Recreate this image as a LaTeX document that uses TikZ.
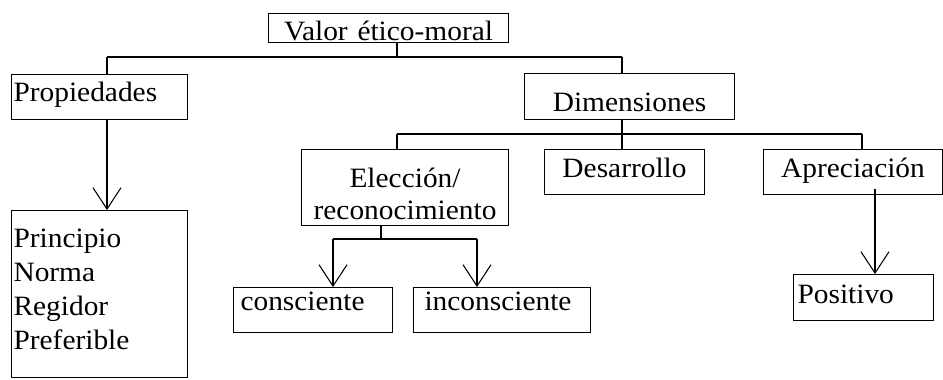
\documentclass[tikz,border=0pt]{standalone}
\usepackage{fontspec}
\usepackage{graphicx}
\setmainfont{Liberation Serif}
\usetikzlibrary{arrows.meta}
\newcommand{\sx}[1]{\scalebox{1.05}[1]{#1}}
\tikzset{
  box/.style={draw, line width=0.8pt, inner ysep=0pt, anchor=north west,
    font=\fontsize{21}{24}\selectfont},
  link/.style={line width=0.8pt},
  arr/.style={line width=0.8pt, -{Straight Barb[length=16pt,width=21pt,line width=0.8pt]}}
}
\begin{document}
\begin{tikzpicture}[x=0.75pt,y=-0.75pt]
\useasboundingbox (0,0) rectangle (943,379);
% boxes
\node[box, inner xsep=0pt, text width=180pt, align=center, text height=20.25pt, text depth=1.5pt] (val) at (268,13) {\sx{Valor ético-moral}};
\node[box, inner xsep=1.5pt, text width=129pt, align=left, text height=20.25pt, text depth=13.5pt] (prop) at (11,74) {\sx{Propiedades}};
\node[box, inner xsep=0pt, text width=157.5pt, align=center, text height=28.5pt, text depth=6pt] (dim) at (524,73) {\sx{Dimensiones}};
\node[box, inner xsep=0pt, text width=155.25pt, align=center, text height=28.5pt, text depth=28.5pt] (ele) at (301,149) {\sx{Elección/}\\\sx{reconocimiento}};
\node[box, inner xsep=0pt, text width=120pt, align=center, text height=21pt, text depth=12.75pt] (des) at (544,149) {\sx{Desarrollo}};
\node[box, inner xsep=0pt, text width=134.25pt, align=center, text height=21pt, text depth=12.75pt] (apr) at (763,149) {\sx{Apreciación}};
\node[box, inner xsep=1.5pt, text width=129pt, align=left, text height=27.75pt, text depth=97.5pt, font=\fontsize{21}{25.5}\selectfont] (pri) at (11,210) {\sx{Principio}\\\sx{Norma}\\\sx{Regidor}\\\sx{Preferible}};
\node[box, inner xsep=5.25pt, text width=108.75pt, align=left, text height=17.25pt, text depth=16.5pt] (con) at (233,287) {\sx{consciente}};
\node[box, inner xsep=8.25pt, text width=116.25pt, align=left, text height=17.25pt, text depth=16.5pt] (inc) at (413,287) {\sx{inconsciente}};
\node[box, inner xsep=3pt, text width=99pt, align=left, text height=21.75pt, text depth=12.75pt] (pos) at (793,274) {\sx{Positivo}};
% connectors
\coordinate (j1) at (397,57);
\coordinate (b1) at (107,57);
\coordinate (b2) at (622,57);
\draw[link] (val.south -| j1) -- (j1);
\draw[link] (b1) -- (b2);
\draw[link] (b1) -- (b1 |- prop.north);
\draw[link] (b2) -- (b2 |- dim.north);
\draw[arr] (b1 |- prop.south) -- (b1 |- pri.north);
\coordinate (j2) at (622,134);
\coordinate (c1) at (397,134);
\coordinate (c3) at (862,134);
\draw[link] (j2 |- dim.south) -- (j2);
\draw[link] (c1) -- (c3);
\draw[link] (c1) -- (c1 |- ele.north);
\draw[link] (j2) -- (j2 |- des.north);
\draw[link] (c3) -- (c3 |- apr.north);
\coordinate (j3) at (381,239);
\coordinate (d1) at (333,239);
\coordinate (d2) at (477,239);
\draw[link] (j3 |- ele.south) -- (j3);
\draw[link] (d1) -- (d2);
\draw[arr] (d1) -- (d1 |- con.north);
\draw[arr] (d2) -- (d2 |- inc.north);
\coordinate (e1) at (875,189);
\draw[arr] (e1) -- (e1 |- pos.north);
\end{tikzpicture}
\end{document}
